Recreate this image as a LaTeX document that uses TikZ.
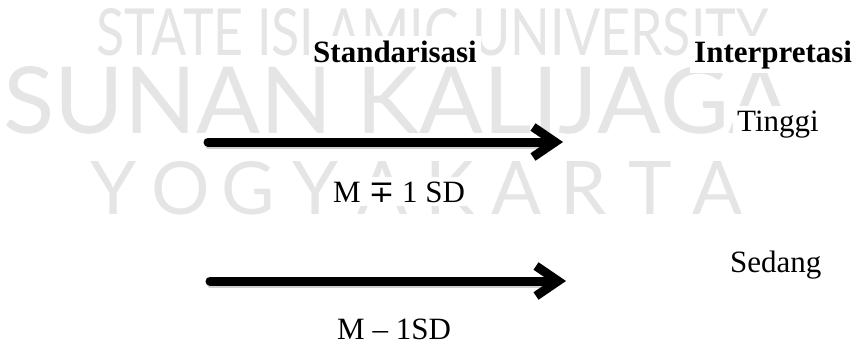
\documentclass[tikz,border=0pt]{standalone}
\usepackage{fontspec}
\setmainfont{Liberation Serif}
\newfontfamily\wmfont{Lato}
\newfontfamily\symserif{DejaVu Serif}
\usetikzlibrary{arrows.meta}
\begin{document}
\begin{tikzpicture}[x=1pt,y=-1pt,
  lbl/.style={fill=white, inner sep=4pt, font=\fontsize{31}{37}\selectfont, anchor=base west},
  hdr/.style={lbl, font=\fontsize{31}{37}\selectfont\bfseries},
  wm/.style={text=black!10, inner sep=0pt},
  wmletter/.style={wm, anchor=south},
  bigarrow/.style={line width=9pt, line cap=round, -{Straight Barb[length=22pt,width=30pt]}},
  arrowshadow/.style={line width=5pt, black!18, line cap=round}]
\useasboundingbox (0,0) rectangle (861,343);
\fill[white] (0,0) rectangle (861,343);
% watermark
\node[wm, anchor=north west] (w1) at (96,8) {\resizebox{672pt}{47pt}{\wmfont STATE ISLAMIC UNIVERSITY}};
\node[wm, anchor=north west] (w2) at (3,66) {\resizebox{789pt}{67pt}{\wmfont SUNAN KALIJAGA}};
\foreach \l [count=\i from 0] in {Y,O,G,Y,A,K,A,R,T,A}{
  \node[wmletter] (w3\i) at ({114+67.1*\i},215) {\resizebox{!}{53pt}{\wmfont \l}};
}
% arrows
\coordinate (a1s) at (208,142);
\coordinate (a1e) at (563,142);
\coordinate (a2s) at (210,281);
\coordinate (a2e) at (566,281);
\draw[arrowshadow] ([yshift=-4pt]a1s) -- ([yshift=-4pt,xshift=-22pt]a1e);
\draw[arrowshadow] ([yshift=-4pt]a2s) -- ([yshift=-4pt,xshift=-22pt]a2e);
\draw[bigarrow] (a1s) -- (a1e);
\draw[bigarrow] (a2s) -- (a2e);
% labels
\node[hdr] (std) at (309,62) {Standarisasi};
\node[hdr] (int) at (690,62) {Interpretasi};
\node[lbl] (ting) at (733,131) {Tinggi};
\node[lbl] (sed) at (726,272) {Sedang};
\node[lbl] (mp) at (329,202) {M {\symserif ∓} 1 SD};
\node[lbl, inner ysep=1pt] (mm) at (333,339) {M -- 1SD};
\end{tikzpicture}
\end{document}
